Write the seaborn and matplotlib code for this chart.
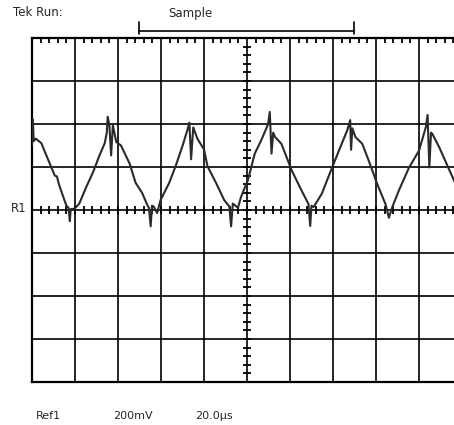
import numpy as np
import pandas as pd
import matplotlib
matplotlib.use("Agg")
import matplotlib.pyplot as plt
from matplotlib.lines import Line2D
import seaborn as sns

# trace (time in µs, voltage in mV)
time_us = [0.0, 0.4, 0.8, 1.8, 4.4, 6.0, 7.6, 10.6, 11.6, 12.4,
           13.8, 16.0, 17.0, 17.6, 18.0, 19.8, 22.0, 25.2, 28.4, 31.4,
           33.8, 34.8, 35.2, 36.0, 36.8, 37.6, 39.2, 41.4, 45.4, 48.2,
           51.2, 53.6, 54.4, 55.2, 55.8, 56.6, 58.2, 59.8, 63.8, 66.8,
           70.0, 72.4, 73.2, 74.0, 75.0, 77.0, 80.0, 81.6, 85.6, 89.4,
           91.8, 92.6, 93.4, 95.8, 97.2, 98.8, 100.4, 103.6, 106.6, 109.0,
           109.8, 110.6, 111.4, 112.2, 113.0, 116.0, 120.8, 125.4, 128.6, 129.4,
           130.0, 131.0, 134.8, 139.6, 143.4, 146.6, 148.0, 148.4, 149.0, 150.4,
           153.6, 156.6, 160.6, 164.4, 166.0, 167.6, 170.6, 175.4, 180.0, 183.2,
           184.0, 184.8, 185.6, 186.2, 189.4, 194.2, 198.0]
volt_mv = [300, 420, 320, 332, 310, 270, 232, 160, 156, 124,
           82, 20, 10, -52, 4, 6, 30, 106, 176, 254,
           310, 360, 434, 394, 254, 394, 316, 300, 216, 126,
           80, 24, 10, -76, 20, 16, -14, 46, 126, 204,
           298, 376, 406, 236, 384, 330, 282, 204, 126, 46,
           16, -76, 30, 10, 60, 100, 138, 262, 324, 380,
           400, 456, 262, 360, 340, 308, 184, 90, 28, -74,
           20, 14, 76, 198, 292, 370, 418, 280, 380, 340,
           308, 230, 120, 28, -36, 14, 90, 198, 276, 386,
           442, 198, 360, 354, 292, 184, 100]

header_left = "Tek Run:"
header_mode = "Sample"
channel_name = "R1"
footer = ["Ref1", "200mV", "20.0µs"]

sns.set_style("white")
plt.rcParams['font.family'] = ['DejaVu Sans']

W, H = 454, 425
fig = plt.figure(figsize=(W / 100, H / 100), dpi=100)
# screen grid: left edge at x=32, bottom 382, top 38; right edge runs off the image
ax = fig.add_axes([32 / W, (H - 382) / H, 430 / W, 344 / H])

df = pd.DataFrame({"t": time_us, "v": volt_mv})
sns.lineplot(data=df, x="t", y="v", ax=ax, estimator=None, color="#2a2a2a",
             linewidth=1.5, zorder=5)

ax.set_xlim(0, 200)
ax.set_ylim(-800, 800)
ax.set_xticks(np.arange(0, 201, 20))
ax.set_yticks(np.arange(-800, 801, 200))
ax.set_xticks(np.arange(0, 201, 4), minor=True)
ax.set_yticks(np.arange(-800, 801, 40), minor=True)
ax.grid(True, which="major", color="black", linewidth=1.2)
ax.tick_params(which="major", length=0, labelbottom=False, labelleft=False)
ax.tick_params(which="minor", direction="in", length=3.5, width=1.3,
               top=True, right=True, color="black")
ax.set_xlabel("")
ax.set_ylabel("")
for s in ax.spines.values():
    s.set_color("black")
    s.set_linewidth(1.6)

# centre crosshair ticks
mx = np.arange(0, 201, 4)
my = np.arange(-800, 801, 40)
ax.plot(mx, np.zeros_like(mx), ls="none", marker="|", ms=6, mew=1.3, color="black")
ax.plot(np.full_like(my, 100), my, ls="none", marker="_", ms=6, mew=1.3, color="black")

fs = 8.5
fig.text(13 / W, 1 - 13 / H, header_left, fontsize=fs, va="center", ha="left")
fig.text(190 / W, 1 - 13 / H, header_mode, fontsize=fs, va="center", ha="center")
# acquisition bracket
y0 = 1 - 31 / H
fig.add_artist(Line2D([139 / W, 354 / W], [y0, y0], color="black", lw=1.2))
for xb in (139, 354):
    fig.add_artist(Line2D([xb / W, xb / W], [1 - 22 / H, 1 - 34 / H], color="black", lw=1.2))

fig.text(26 / W, 1 - 209 / H, channel_name, fontsize=fs, va="center", ha="right")
for xt, s in zip((36, 113, 195), footer):
    fig.text(xt / W, 1 - 416 / H, s, fontsize=fs - 0.5, va="center", ha="left")

fig.savefig("out.png", dpi=100)
